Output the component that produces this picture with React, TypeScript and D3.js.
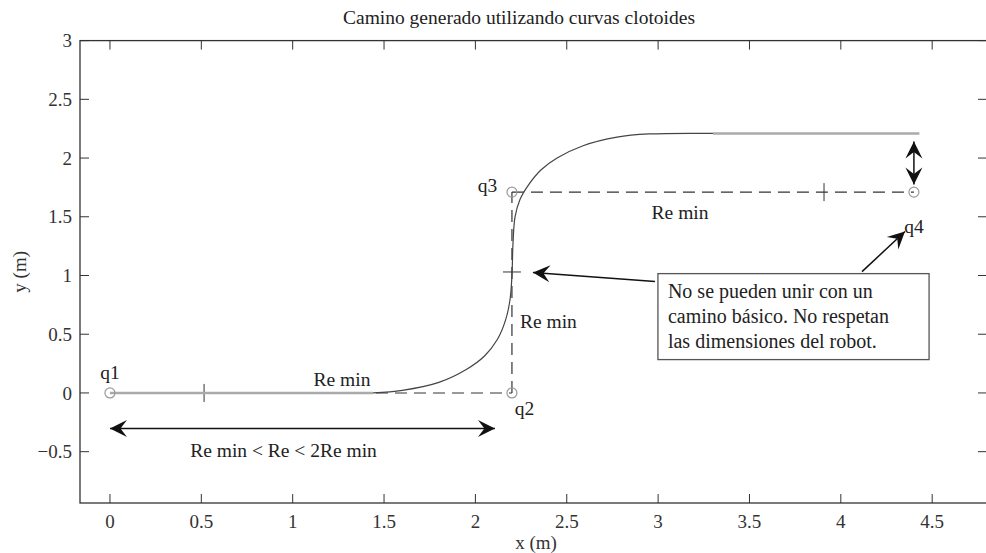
import React from "react";
import * as d3 from "d3";

// trayectoria con clotoides
const curvePts: [number, number][] = [
  [1.44, 0], [1.6, 0.022], [1.8, 0.09], [1.95, 0.2], [2.05, 0.315],
  [2.12, 0.455], [2.165, 0.62], [2.19, 0.8], [2.2, 1.0], [2.206, 1.28],
  [2.217, 1.5], [2.244, 1.647], [2.29, 1.77], [2.36, 1.9], [2.447, 2.0],
  [2.589, 2.105], [2.775, 2.178], [2.95, 2.205], [3.3, 2.21],
];
const straightStart: [number, number][] = [[0, 0], [1.44, 0]];
const straightEnd: [number, number][] = [[3.3, 2.21], [4.43, 2.21]];

const configs = [
  { name: "q1", x: 0, y: 0 },
  { name: "q2", x: 2.2, y: 0 },
  { name: "q3", x: 2.2, y: 1.71 },
  { name: "q4", x: 4.4, y: 1.71 },
];

const xTicks = [0, 0.5, 1, 1.5, 2, 2.5, 3, 3.5, 4, 4.5];
const yTicks = [-0.5, 0, 0.5, 1, 1.5, 2, 2.5, 3];

// marcas de Re min sobre los segmentos
const segTicks = [
  { x: 0.515, y: 0, dir: "v" },
  { x: 2.2, y: 1.03, dir: "h" },
  { x: 3.908, y: 1.71, dir: "v" },
];

const labels = [
  { text: "q1", x: 0, y: 0.18, anchor: "middle" },
  { text: "q2", x: 2.215, y: -0.13, anchor: "start" },
  { text: "q3", x: 2.12, y: 1.77, anchor: "end" },
  { text: "q4", x: 4.4, y: 1.42, anchor: "middle" },
  { text: "Re min", x: 1.27, y: 0.115, anchor: "middle" },
  { text: "Re min", x: 2.244, y: 0.61, anchor: "start" },
  { text: "Re min", x: 3.12, y: 1.535, anchor: "middle" },
  { text: "Re min < Re < 2Re min", x: 0.95, y: -0.485, anchor: "middle" },
];

// flechas: [x0, y0, x1, y1, doble]
const arrows: [number, number, number, number, boolean][] = [
  [0.0, -0.303, 2.107, -0.303, true],
  [2.983, 0.948, 2.315, 1.026, false],
  [4.116, 1.033, 4.351, 1.374, false],
  [4.4, 2.141, 4.4, 1.775, true],
];

const boxLines = [
  "No se pueden unir con un",
  "camino básico. No respetan",
  "las dimensiones del robot.",
];
const box = { x0: 2.999, x1: 4.483, y0: 1.016, y1: 0.284 };

const W = 986;
const H = 553;
const m = { left: 80, top: 40.6, right: 987, bottom: 503 };
const font = "'Liberation Serif', 'Times New Roman', serif";

export default function App() {
  const x = d3.scaleLinear().domain([-0.164, 4.8]).range([m.left, m.right]);
  const y = d3.scaleLinear().domain([-0.937, 3]).range([m.bottom, m.top]);
  const line = d3
    .line<[number, number]>()
    .x((d) => x(d[0]))
    .y((d) => y(d[1]));
  const smooth = d3
    .line<[number, number]>()
    .x((d) => x(d[0]))
    .y((d) => y(d[1]))
    .curve(d3.curveCatmullRom.alpha(0.5));

  const head = (tx: number, ty: number, ux: number, uy: number) => {
    const L = 17;
    const Wd = 8.5;
    const px = -uy;
    const py = ux;
    const bx = tx - ux * L;
    const by = ty - uy * L;
    const nx = tx - ux * L * 0.62;
    const ny = ty - uy * L * 0.62;
    return `M${tx},${ty}L${bx + px * Wd},${by + py * Wd}L${nx},${ny}L${bx - px * Wd},${by - py * Wd}Z`;
  };

  return (
    <svg
      width={W}
      height={H}
      style={{ position: "absolute", left: 0, top: 0, background: "#fff" }}
      fontFamily={font}
    >
      <text x={519} y={24} textAnchor="middle" fontSize={19.5} fill="#222">
        Camino generado utilizando curvas clotoides
      </text>

      {/* ejes */}
      <rect
        x={m.left}
        y={m.top}
        width={m.right - m.left}
        height={m.bottom - m.top}
        fill="none"
        stroke="#333"
        strokeWidth={1.3}
      />
      {xTicks.map((t) => (
        <g key={"x" + t}>
          <line x1={x(t)} x2={x(t)} y1={m.bottom} y2={m.bottom - 9} stroke="#333" />
          <line x1={x(t)} x2={x(t)} y1={m.top} y2={m.top + 9} stroke="#333" />
          <text x={x(t)} y={528} textAnchor="middle" fontSize={19} fill="#333">
            {t}
          </text>
        </g>
      ))}
      {yTicks.map((t) => (
        <g key={"y" + t}>
          <line x1={m.left} x2={m.left + 9} y1={y(t)} y2={y(t)} stroke="#333" />
          <line x1={m.right} x2={m.right - 9} y1={y(t)} y2={y(t)} stroke="#333" />
          <text x={72} y={y(t)} dy="0.35em" textAnchor="end" fontSize={19} fill="#333">
            {t < 0 ? "\u2212" + Math.abs(t) : t}
          </text>
        </g>
      ))}
      <text x={536} y={549} textAnchor="middle" fontSize={19} fill="#333">
        x (m)
      </text>
      <text
        transform={`translate(26,${(m.top + m.bottom) / 2}) rotate(-90)`}
        textAnchor="middle"
        fontSize={19}
        fill="#333"
      >
        y (m)
      </text>

      {/* segmentos de referencia */}
      <path
        d={line([[configs[0].x, configs[0].y], [configs[1].x, configs[1].y]]) ?? ""}
        stroke="#999"
        strokeWidth={2}
        strokeDasharray="12,7"
        fill="none"
      />
      <path
        d={line([[configs[1].x, configs[1].y], [configs[2].x, configs[2].y]]) ?? ""}
        stroke="#333"
        strokeWidth={1.2}
        strokeDasharray="12,7"
        fill="none"
      />
      <path
        d={line([[configs[2].x, configs[2].y], [configs[3].x, configs[3].y]]) ?? ""}
        stroke="#333"
        strokeWidth={1.2}
        strokeDasharray="12,7"
        fill="none"
      />
      {segTicks.map((s, i) =>
        s.dir === "v" ? (
          <line key={i} x1={x(s.x)} x2={x(s.x)} y1={y(s.y) - 9} y2={y(s.y) + 9} stroke="#333" />
        ) : (
          <line key={i} x1={x(s.x) - 9} x2={x(s.x) + 9} y1={y(s.y)} y2={y(s.y)} stroke="#333" />
        ),
      )}

      {/* trayectoria */}
      <path d={line(straightStart) ?? ""} stroke="#aaa" strokeWidth={2.5} fill="none" />
      <path d={line(straightEnd) ?? ""} stroke="#aaa" strokeWidth={2.5} fill="none" />
      <path d={smooth(curvePts) ?? ""} stroke="#444" strokeWidth={1.2} fill="none" />

      {configs.map((c) => (
        <circle key={c.name} cx={x(c.x)} cy={y(c.y)} r={5} fill="none" stroke="#999" strokeWidth={1.2} />
      ))}

      {labels.map((l, i) => (
        <text
          key={i}
          x={x(l.x)}
          y={y(l.y)}
          dy="0.35em"
          textAnchor={l.anchor as any}
          fontSize={19.5}
          fill="#222"
        >
          {l.text}
        </text>
      ))}

      {/* flechas */}
      {arrows.map(([x0, y0, x1, y1, dbl], i) => {
        const ax = x(x0);
        const ay = y(y0);
        const bx = x(x1);
        const by = y(y1);
        const len = Math.hypot(bx - ax, by - ay);
        const ux = (bx - ax) / len;
        const uy = (by - ay) / len;
        return (
          <g key={i}>
            <line x1={ax} y1={ay} x2={bx} y2={by} stroke="#111" strokeWidth={1.5} />
            <path d={head(bx, by, ux, uy)} fill="#111" />
            {dbl && <path d={head(ax, ay, -ux, -uy)} fill="#111" />}
          </g>
        );
      })}

      {/* cuadro de texto */}
      <rect
        x={x(box.x0)}
        y={y(box.y0)}
        width={x(box.x1) - x(box.x0)}
        height={y(box.y1) - y(box.y0)}
        fill="#fff"
        stroke="#555"
        strokeWidth={1.3}
      />
      {boxLines.map((t, i) => (
        <text key={i} x={x(box.x0) + 10} y={y(box.y0) + 24 + i * 25} fontSize={20} fill="#222">
          {t}
        </text>
      ))}
    </svg>
  );
}
